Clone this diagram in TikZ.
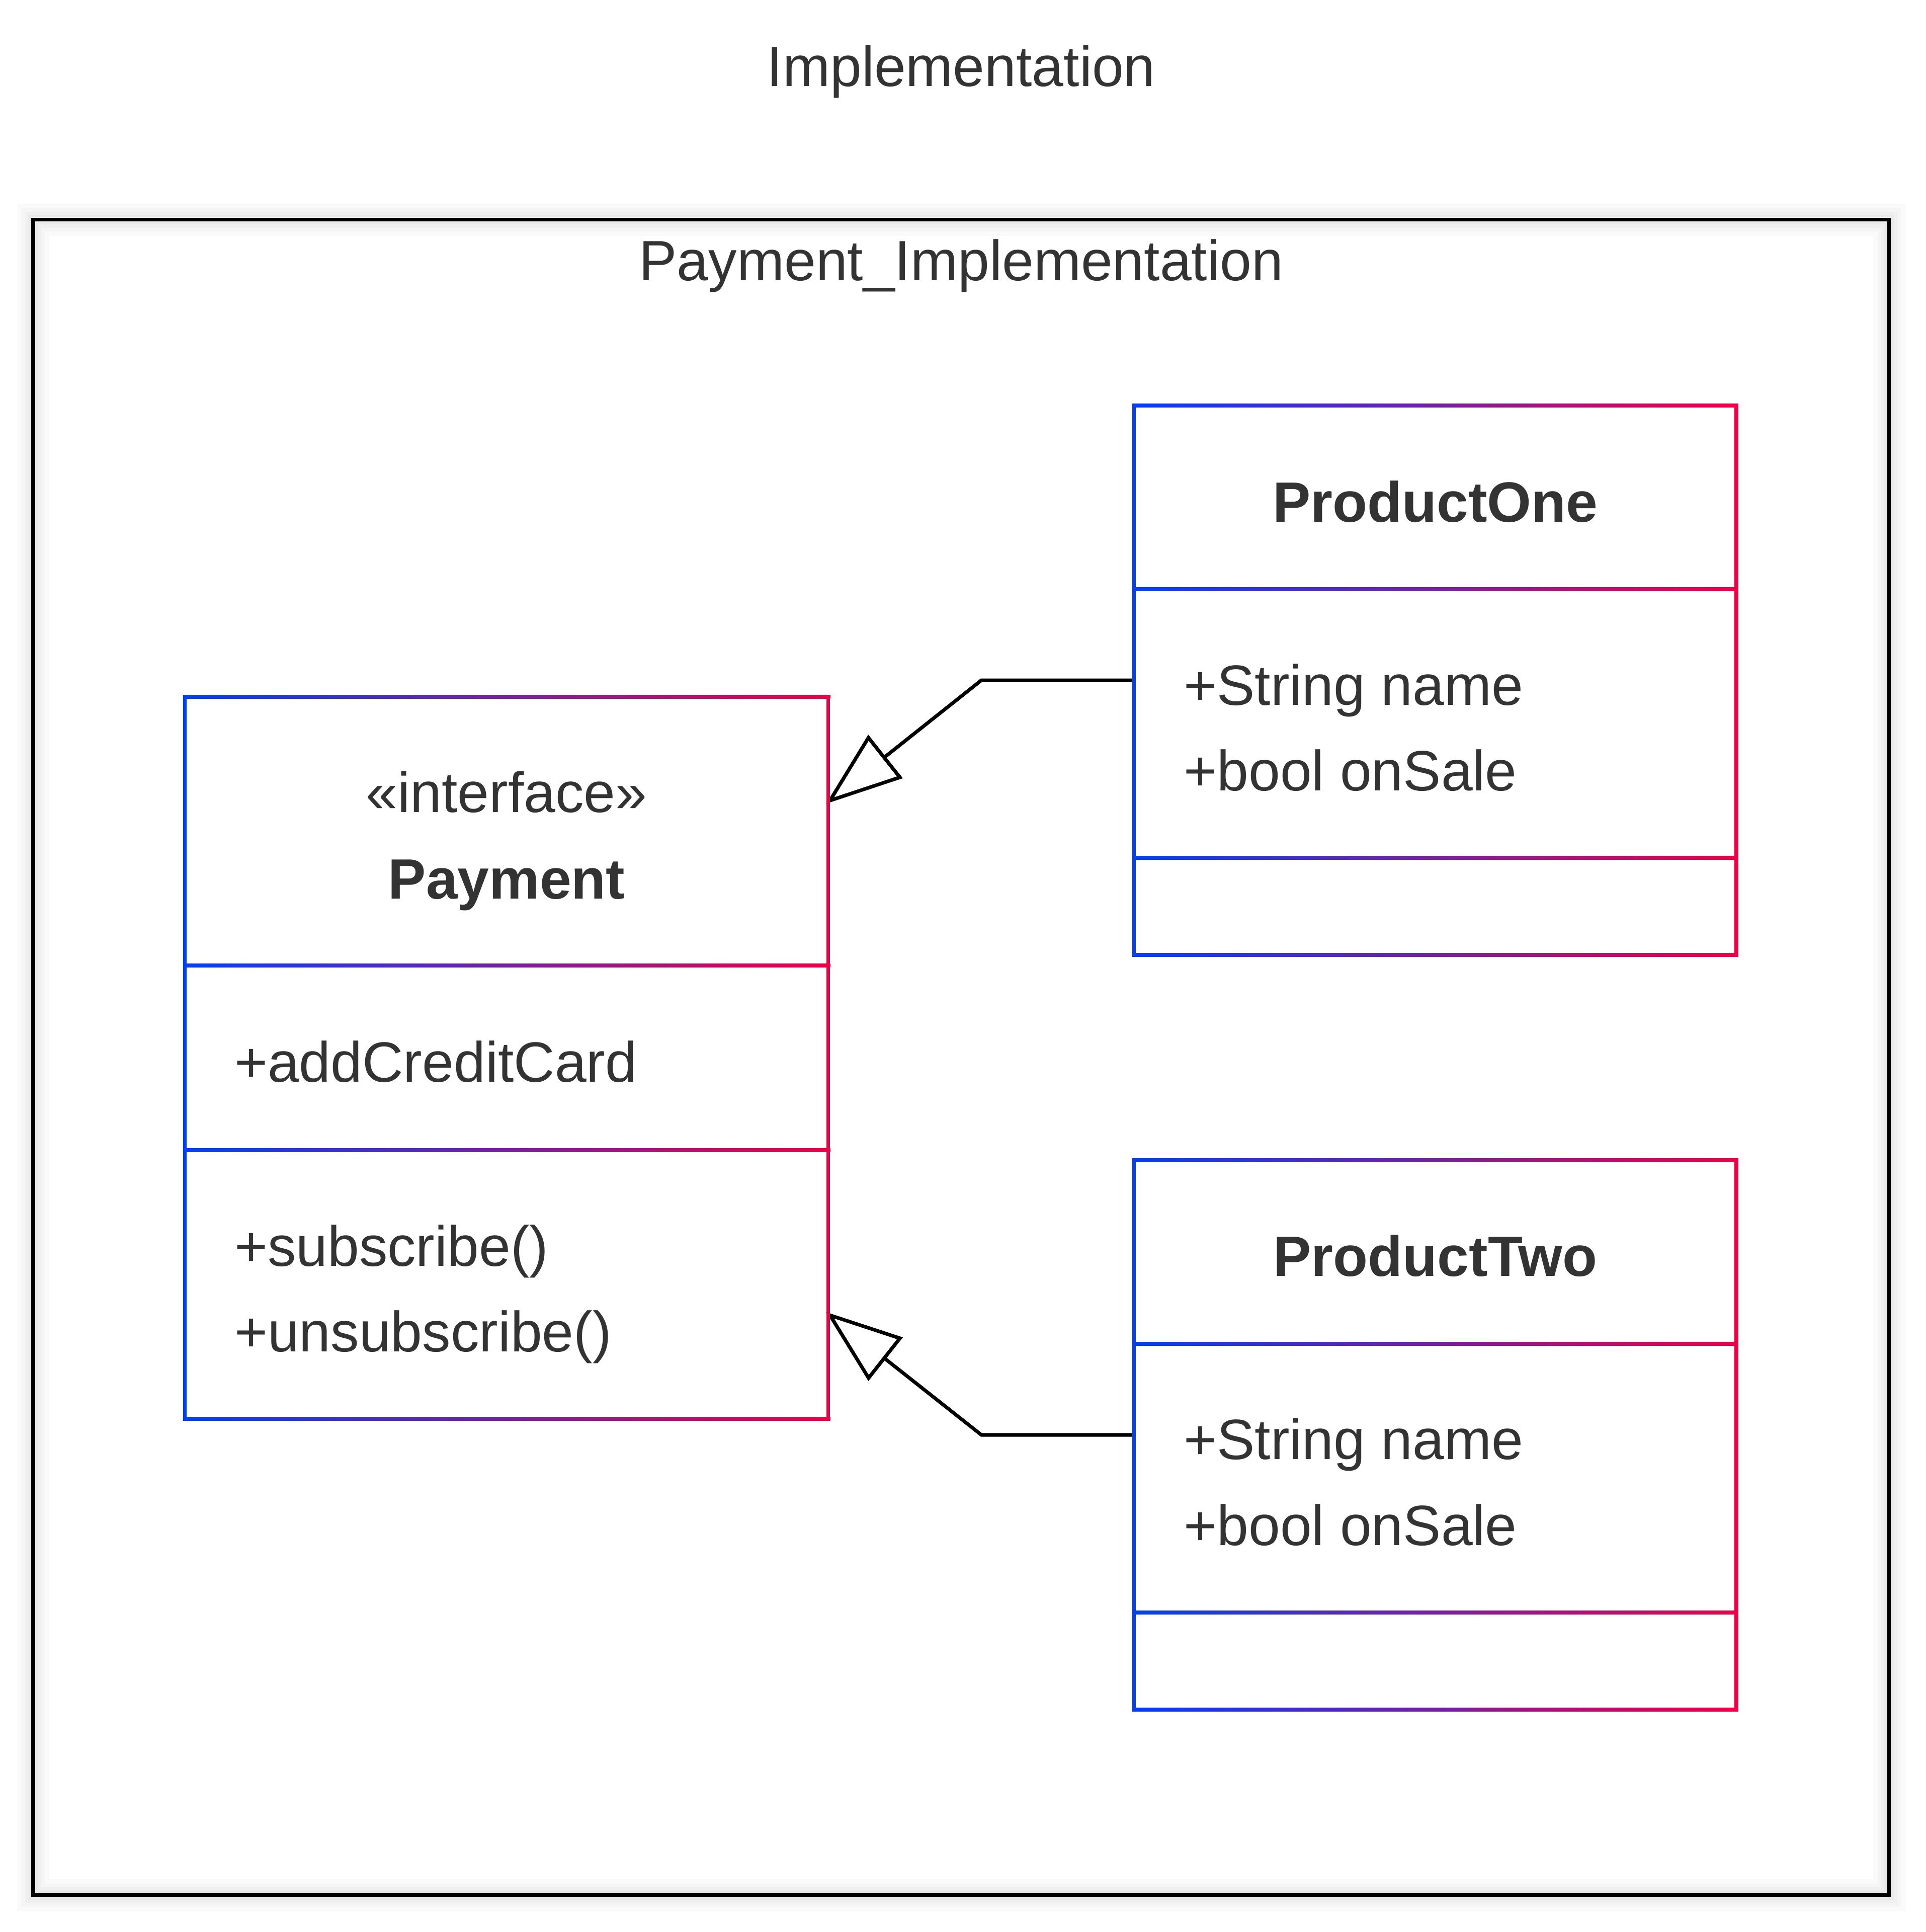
\documentclass[tikz,border=0pt]{standalone}
\usepackage{fontspec}
\setmainfont{Liberation Sans}
\usetikzlibrary{calc}
\definecolor{ublue}{RGB}{0,64,245}
\definecolor{ured}{RGB}{237,0,70}
\definecolor{txt}{RGB}{51,51,51}
\newcommand\gvline[4]{\fill[#1] (#2-1.44,#3-1.44) rectangle (#2+1.44,#4+1.44);}
\newcommand\ghline[3]{\shade[left color=ublue,right color=ured] (#1-1.44,#3-1.44) rectangle (#2+1.44,#3+1.44);}
\newcommand\umlbox[5]{%
  \gvline{ublue}{#1}{#3}{#4}\gvline{ured}{#2}{#3}{#4}%
  \foreach \yy in {#3,#5,#4}{\ghline{#1}{#2}{\yy}}}
\begin{document}
\begin{tikzpicture}[x=1bp,y=-1bp,
  lbl/.style={font=\fontsize{46bp}{55bp}\selectfont, text=txt, inner sep=0pt},
  blbl/.style={lbl, font=\fontsize{46bp}{55bp}\selectfont\bfseries},
  boxn/.style={draw=none, inner sep=0pt, rectangle},
  conn/.style={draw=black, line width=2.875bp},
  tri/.style={draw=black, fill=white, line width=2.875bp, line join=miter}]
\useasboundingbox (0,0) rectangle (1560,1564.5);
\fill[white] (0,0) rectangle (1560,1564.5);

% frame shadow
\foreach \w in {26,19,13,8}
  \draw[black, opacity=0.02, line width=\w bp] (26.9,177.9) rectangle (1530.2,1534.7);
\node[boxn, draw=black, line width=2.875bp, minimum width=1503.3bp, minimum height=1356.8bp] (frame) at (778.55,856.3) {};

% titles
\node[lbl, anchor=base] (title) at (778.5,69.7) {Implementation};
\node[lbl, anchor=base] (ftitle) at (778.5,227.3) {Payment\_Implementation};

% box nodes
\node[boxn, minimum width=521.3bp, minimum height=584.7bp] (pay) at (410.35,856.65) {};
\node[boxn, minimum width=487.7bp, minimum height=444.9bp] (p1) at (1162.55,550.85) {};
\node[boxn, minimum width=487.7bp, minimum height=444.9bp] (p2) at (1162.55,1161.95) {};

% connectors
\coordinate (e1) at (794.9,550.85);
\coordinate (t1) at (672.3,648.25);
\coordinate (m1) at ($(t1)!56bp!(e1)$);
\coordinate (a1) at ($(m1)!20.5bp!90:(e1)$);
\coordinate (b1) at ($(m1)!20.5bp!-90:(e1)$);
\draw[conn] (p1.west) -- (e1) -- (m1);
\draw[tri] (t1) -- (a1) -- (b1) -- cycle;

\coordinate (e2) at (794.9,1161.95);
\coordinate (t2) at (672.3,1065.05);
\coordinate (m2) at ($(t2)!56bp!(e2)$);
\coordinate (a2) at ($(m2)!20.5bp!90:(e2)$);
\coordinate (b2) at ($(m2)!20.5bp!-90:(e2)$);
\draw[conn] (p2.west) -- (e2) -- (m2);
\draw[tri] (t2) -- (a2) -- (b2) -- cycle;

% boxes
\umlbox{149.7}{671}{564.3}{1149}{782,931.2}
\umlbox{918.7}{1406.4}{328.4}{773.3}{477,694.6}
\umlbox{918.7}{1406.4}{939.5}{1384.4}{1088.1,1305.7}

% Payment texts
\node[lbl, anchor=base] (payst) at (410.35,657.8) {«interface»};
\node[blbl, anchor=base] (payname) at (410.35,728) {Payment};
\node[lbl, anchor=base west] (paya1) at (189.7,876.1) {+addCreditCard};
\node[lbl, anchor=base west] (paym1) at (189.7,1025.3) {+subscribe()};
\node[lbl, anchor=base west] (paym2) at (189.7,1094.6) {+unsubscribe()};

% ProductOne texts
\node[blbl, anchor=base] (p1name) at (1162.55,422.5) {ProductOne};
\node[lbl, anchor=base west] (p1a1) at (958.7,570.8) {+String name};
\node[lbl, anchor=base west] (p1a2) at (958.7,640.1) {+bool onSale};

% ProductTwo texts
\node[blbl, anchor=base] (p2name) at (1162.55,1033.6) {ProductTwo};
\node[lbl, anchor=base west] (p2a1) at (958.7,1181.9) {+String name};
\node[lbl, anchor=base west] (p2a2) at (958.7,1251.2) {+bool onSale};
\end{tikzpicture}
\end{document}
